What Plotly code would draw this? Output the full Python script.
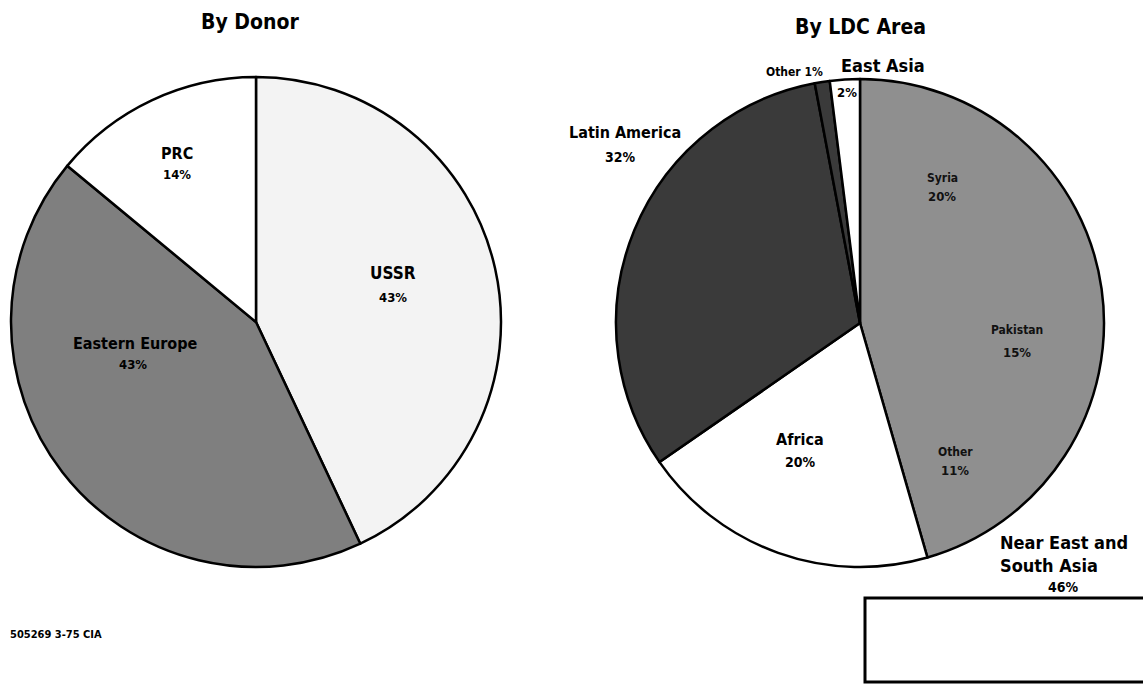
import plotly.graph_objects as go

W, H = 1143, 684

# ---------------- data ----------------
donor_labels = ["USSR", "Eastern Europe", "PRC"]
donor_values = [43, 43, 14]

area_labels = ["Near East and South Asia", "Africa", "Latin America", "Other", "East Asia"]
area_values = [46, 20, 32, 1, 2]

nesa_sub_labels = ["Syria", "Pakistan", "Other"]
nesa_sub_values = [20, 15, 11]

titles = ["By Donor", "By LDC Area"]
footnote = "505269 3-75 CIA"

# ---------------- styles ----------------
FONT = "DejaVu Sans Condensed, Liberation Sans Narrow, Arial Narrow, sans-serif"
donor_colors = ["#f3f3f3", "#7f7f7f", "#ffffff"]
area_colors = ["#8f8f8f", "#ffffff", "#3a3a3a", "#3a3a3a", "#ffffff"]


def px(x, y):
    return x / W, 1 - y / H


fig = go.Figure()

lx0, ly0 = px(11, 567)
lx1, ly1 = px(501, 77)
fig.add_trace(go.Pie(
    labels=donor_labels, values=donor_values, sort=False, direction="clockwise",
    rotation=0, textinfo="none", hoverinfo="label+percent",
    marker=dict(colors=donor_colors, line=dict(color="black", width=2.5)),
    domain=dict(x=[lx0, lx1], y=[ly0, ly1]), showlegend=False,
))

rx0, ry0 = px(616, 567)
rx1, ry1 = px(1104, 79)
fig.add_trace(go.Pie(
    labels=area_labels, values=area_values, sort=False, direction="clockwise",
    rotation=0, textinfo="none", hoverinfo="label+percent",
    marker=dict(colors=area_colors, line=dict(color="black", width=2.5)),
    domain=dict(x=[rx0, rx1], y=[ry0, ry1]), showlegend=False,
))

annotations = []


def add_text(text, x, y, size, xanchor="center", color="black"):
    ax, ay = px(x, y)
    annotations.append(dict(
        text=text, x=ax, y=ay, xref="paper", yref="paper", showarrow=False,
        xanchor=xanchor, yanchor="middle",
        font=dict(family=FONT, size=size, color=color, weight="bold"),
    ))


# titles
add_text(titles[0], 250, 22, 21)
add_text(titles[1], 860, 27, 21)

# donor pie labels
pos_donor = {"USSR": [(393, 273), (393, 297)],
             "Eastern Europe": [(135, 343), (133, 365)],
             "PRC": [(177, 153), (177, 174)]}
for lab, val in zip(donor_labels, donor_values):
    (nx, ny), (vx, vy) = pos_donor[lab]
    add_text(lab, nx, ny, 16 if lab != "USSR" else 17)
    add_text(f"{val}%", vx, vy, 13)

# LDC area pie labels
add_text(area_labels[2], 625, 133, 16)
add_text(f"{area_values[2]}%", 620, 157, 14)
add_text(area_labels[1], 800, 439, 16)
add_text(f"{area_values[1]}%", 800, 462, 14)
add_text(f"{area_labels[3]} {area_values[3]}%", 795, 72, 12)
add_text(area_labels[4], 883, 65, 18)
add_text(f"{area_values[4]}%", 847, 92, 13)
add_text("Near East and", 998, 542, 18, xanchor="left")
add_text("South Asia", 998, 565, 18, xanchor="left")
add_text(f"{area_values[0]}%", 1063, 587, 14)

pos_sub = [((942, 178), (942, 197)), ((1017, 330), (1017, 352)), ((955, 452), (955, 470))]
for lab, val, ((nx, ny), (vx, vy)) in zip(nesa_sub_labels, nesa_sub_values, pos_sub):
    add_text(lab, nx, ny, 12, color="#111111")
    add_text(f"{val}%", vx, vy, 13, color="#111111")

# footnote
add_text(footnote, 8, 634, 11, xanchor="left")

bx0, by0 = px(865, 682)
bx1, by1 = px(1150, 598)
fig.update_layout(
    width=W, height=H,
    margin=dict(l=0, r=0, t=0, b=0),
    paper_bgcolor="white", plot_bgcolor="white",
    annotations=annotations,
    shapes=[dict(type="rect", xref="paper", yref="paper", x0=bx0, y0=by0, x1=bx1, y1=by1,
                 line=dict(color="black", width=3), fillcolor="white")],
)

fig.write_html(
    "out.html",
    config={"displayModeBar": False},
    post_script="document.body.style.margin='0px';document.body.style.overflow='hidden';",
)
